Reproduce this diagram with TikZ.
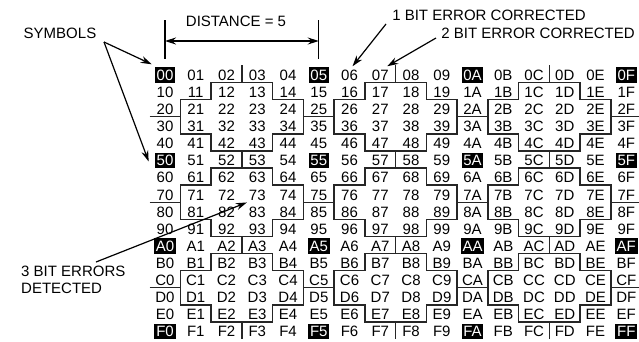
\documentclass[tikz,border=0pt]{standalone}
\usepackage{fontspec}
\setmainfont{Liberation Sans}
\usetikzlibrary{arrows.meta,calc}
\begin{document}
\begin{tikzpicture}[x=1bp,y=-1bp,
  every node/.style={font=\fontsize{15bp}{17bp}\selectfont},
  cell/.style={text height=10.7bp, text depth=0bp, inner xsep=1.8bp, inner ysep=2.2bp},
  sym/.style={cell, fill=black, text=white},
  lbl/.style={inner sep=0pt, text height=10.7bp, text depth=0bp},
  bound/.style={line width=1.4bp, draw=black!85},
  arr/.style={line width=1.2bp, -{Stealth[length=11bp,width=7bp]}},
]
\useasboundingbox (0,0) rectangle (639,341);
\begin{scope}[shift={(165bp,-75bp)}, x=30.75bp, y=-17.1bp]
\foreach \r [count=\ri from 0] in {0,1,2,3,4,5,6,7,8,9,A,B,C,D,E,F}{
  \foreach \c [count=\ci from 0] in {0,1,2,3,4,5,6,7,8,9,A,B,C,D,E,F}{
    \pgfmathtruncatemacro\issym{(mod(\ri,5)==0)*(mod(\ci,5)==0)}
    \ifnum\issym=1
      \node[sym] (n\r\c) at (\ci,\ri) {\r\c};
    \else
      \node[cell] (n\r\c) at (\ci,\ri) {\r\c};
    \fi
  }
}
\begin{scope}[yshift=1bp]
\foreach \a in {2.5,7.5,12.5}{
  \foreach \b in {2.5,7.5,12.5}{
    \draw[bound] (\a-1,\b-2) -- (\a+1,\b-2) -- (\a+1,\b-1) -- (\a+2,\b-1) -- (\a+2,\b+1) -- (\a+1,\b+1) -- (\a+1,\b+2) -- (\a-1,\b+2) -- (\a-1,\b+1) -- (\a-2,\b+1) -- (\a-2,\b-1) -- (\a-1,\b-1) -- cycle;
    \draw[bound] (\a-3,\b) -- (\a-2,\b) (\a+2,\b) -- (\a+3,\b) (\a,\b-3) -- (\a,\b-2) (\a,\b+2) -- (\a,\b+3);
  }
}
\end{scope}
\end{scope}
% labels
\node[lbl] (dist) at (236,21) {DISTANCE = 5};
\node[lbl] (one) at (489,15) {1 BIT ERROR CORRECTED};
\node[lbl] (two) at (538,33) {2 BIT ERROR CORRECTED};
\node[lbl] (symb) at (60,33) {SYMBOLS};
\node[lbl, anchor=north west, align=left, text height=, text depth=] (three) at (21,266) {3 BIT ERRORS\\DETECTED};
% distance arrow
\coordinate (ty) at (0,20);
\coordinate (by) at (0,59);
\coordinate (my) at (0,41);
\draw[line width=1.2bp] (n00 |- ty) -- (n00 |- by);
\draw[line width=1.2bp] (n05 |- ty) -- (n05 |- by);
\draw[line width=1.2bp, {Stealth[length=11bp,width=7bp]}-{Stealth[length=11bp,width=7bp]}] (n00 |- my) -- (n05 |- my);
% pointer arrows
\coordinate (s1) at (386,24);
\coordinate (s2) at (436,38);
\coordinate (ss) at (104,42);
\coordinate (s3) at (96,262);
\draw[arr] (s1) -- ($(n06.north)+(3,-1)$);
\draw[arr] (s2) -- ($(n07.north)+(7,-1)$);
\draw[arr] (ss) -- ($(n00.north west)+(-3,-3)$);
\draw[arr] (ss) -- ($(n50.west)+(-6,1)$);
\draw[arr] (s3) -- ($(n73.south west)+(0,0)$);
\end{tikzpicture}
\end{document}
